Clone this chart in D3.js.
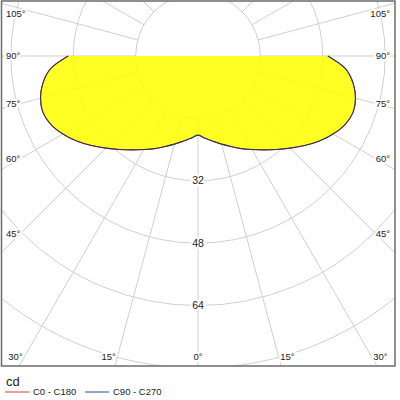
<!DOCTYPE html>
<html>
<head>
<meta charset="utf-8">
<script src="https://cdn.jsdelivr.net/npm/d3@7"></script>
<style>
  body { margin: 0; background: #fff; }
  text { font-family: "Liberation Sans", Arial, sans-serif; }
</style>
</head>
<body>
<svg id="chart" width="400" height="400"></svg>
<script>
// gamma angles (deg) and intensity (cd) for C0 - C180 and C90 - C270
var gammas = [0, 5, 10, 15, 20, 25, 30, 35, 40, 45, 50, 55, 60, 65, 70, 75, 80, 85, 90];
var c0c180 = [20.3, 21.2, 22.2, 23.4, 24.7, 26.2, 27.7, 29.4, 31.3, 33.4, 35.7, 38.0, 40.0, 41.6, 42.3, 41.8, 40.4, 38.0, 33.3];
var c90c270 = [20.3, 21.2, 22.2, 23.4, 24.7, 26.2, 27.7, 29.4, 31.3, 33.4, 35.7, 38.0, 40.0, 41.6, 42.3, 41.8, 40.4, 38.0, 33.3];
var rings = [16, 32, 48, 64, 80];
var ringLabels = [32, 48, 64];
var spokes = [0, 15, 30, 45, 60, 75, 90, 105, 120, 135, 150, 165, 180];
var spokeLabels = [0, 15, 30, 45, 60, 75, 90, 105];
var legendNames = ['C0 - C180', 'C90 - C270'];
var legendColors = ['#d9363e', '#2a4a9a'];

var svg = d3.select('#chart');
var frame = {x0: 1.5, y0: 1, x1: 395, y1: 366};
var cx = 198, cy = 56;

var r = d3.scaleLinear().domain([0, 80]).range([0, 312]);

svg.append('clipPath').attr('id', 'clip')
   .append('rect')
   .attr('x', frame.x0).attr('y', frame.y0)
   .attr('width', frame.x1 - frame.x0).attr('height', frame.y1 - frame.y0);

var g = svg.append('g').attr('clip-path', 'url(#clip)');
var c = g.append('g').attr('transform', 'translate(' + cx + ',' + cy + ')');

// gamma measured from straight down
function pt(deg, rad) {
   var a = deg * Math.PI / 180;
   return [rad * Math.sin(a), rad * Math.cos(a)];
}

// grid
c.selectAll('circle.ring')
   .data(rings)
   .enter().append('circle')
   .attr('class', 'ring')
   .attr('r', function(d) { return r(d) })
   .attr('fill', 'none')
   .attr('stroke', '#cfcfcf')
   .attr('stroke-width', 1);

var spokeAll = spokes.concat(spokes.filter(function(d) { return d > 0 && d < 180 }).map(function(d) { return -d }));
c.selectAll('line.spoke')
   .data(spokeAll)
   .enter().append('line')
   .attr('class', 'spoke')
   .attr('x1', function(d) { return pt(d, r(16))[0] })
   .attr('y1', function(d) { return pt(d, r(16))[1] })
   .attr('x2', function(d) { return pt(d, 500)[0] })
   .attr('y2', function(d) { return pt(d, 500)[1] })
   .attr('stroke', '#cfcfcf')
   .attr('stroke-width', 1);

// curves: left half (negative gamma) then right half, closed through centre
function shape(vals) {
   var pts = [];
   for (var i = gammas.length - 1; i >= 0; i--) pts.push([-gammas[i], vals[i]]);
   for (var j = 1; j < gammas.length; j++) pts.push([gammas[j], vals[j]]);
   return pts;
}

var radial = d3.lineRadial()
   .angle(function(d) { return Math.PI - d[0] * Math.PI / 180 })
   .radius(function(d) { return r(d[1]) })
   .curve(d3.curveCatmullRom);

function closedPath(vals) {
   return radial(shape(vals)) + 'L0,0Z';
}

c.append('path')
   .attr('d', closedPath(c0c180))
   .attr('fill', '#ffff00')
   .attr('fill-opacity', 0.86)
   .attr('stroke', 'none');

c.append('path')
   .attr('d', radial(shape(c0c180)))
   .attr('fill', 'none')
   .attr('stroke', legendColors[0])
   .attr('stroke-width', 1);

c.append('path')
   .attr('d', radial(shape(c90c270)))
   .attr('fill', 'none')
   .attr('stroke', '#2b3557')
   .attr('stroke-width', 1.1);

// ring labels
c.selectAll('text.rl')
   .data(ringLabels)
   .enter().append('text')
   .attr('class', 'rl')
   .attr('x', 0)
   .attr('y', function(d) { return r(d) })
   .attr('dy', '0.35em')
   .attr('text-anchor', 'middle')
   .style('font-size', '10.5px')
   .attr('fill', '#222')
   .attr('stroke', '#fff').attr('stroke-width', 4)
   .attr('paint-order', 'stroke')
   .text(function(d) { return d });

// angle labels at the inner edge of the frame
var inset = {x0: 20, x1: 376, y1: 357};
var labelData = [];
spokeLabels.forEach(function(d) {
   (d === 0 ? [1] : [-1, 1]).forEach(function(s) {
      var a = d * Math.PI / 180;
      var sx = Math.sin(a), cy2 = Math.cos(a);
      var tx = (cx - inset.x0) / sx;
      var ty = cy2 > 1e-6 ? (inset.y1 - cy) / cy2 : Infinity;
      var side = tx < ty;
      var t = Math.min(tx, ty);
      var px = cx + s * t * sx, py = cy + t * cy2;
      var anchor, x;
      if (d === 0) { anchor = 'middle'; x = px; }
      else if (side) { anchor = s < 0 ? 'start' : 'end'; x = s < 0 ? 6 : 390; }
      else { anchor = s < 0 ? 'end' : 'start'; x = px + s * 1.5; }
      labelData.push({deg: d, x: x, y: Math.max(py, 14), anchor: anchor});
   });
});

svg.selectAll('text.al')
   .data(labelData)
   .enter().append('text')
   .attr('class', 'al')
   .attr('x', function(d) { return d.x })
   .attr('y', function(d) { return d.y })
   .attr('dy', '0.35em')
   .attr('text-anchor', function(d) { return d.anchor })
   .style('font-size', '9.5px')
   .attr('fill', '#222')
   .attr('stroke', '#fff').attr('stroke-width', 4)
   .attr('paint-order', 'stroke')
   .text(function(d) { return d.deg + '°' });

// frame
svg.append('rect')
   .attr('x', frame.x0).attr('y', frame.y0)
   .attr('width', frame.x1 - frame.x0).attr('height', frame.y1 - frame.y0)
   .attr('fill', 'none')
   .attr('stroke', '#6b6b6b')
   .attr('stroke-width', 1.5);

// legend
svg.append('text')
   .attr('x', 6).attr('y', 386)
   .style('font-size', '13px')
   .attr('fill', '#222')
   .text('cd');

var leg = svg.selectAll('g.leg')
   .data(legendNames)
   .enter().append('g')
   .attr('class', 'leg')
   .attr('transform', function(d, i) { return 'translate(' + (5 + i * 80) + ',392)' });

leg.append('line')
   .attr('x1', 0).attr('x2', 24)
   .attr('y1', 0).attr('y2', 0)
   .attr('stroke', function(d, i) { return legendColors[i] })
   .attr('stroke-width', 1);

leg.append('text')
   .attr('x', 28).attr('y', 0)
   .attr('dy', '0.35em')
   .style('font-size', '9.5px')
   .attr('fill', '#222')
   .text(function(d) { return d });
</script>
</body>
</html>
